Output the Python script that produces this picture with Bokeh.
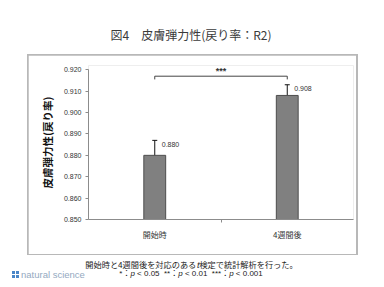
from bokeh.plotting import figure
from bokeh.layouts import column
from bokeh.models import (ColumnDataSource, Whisker, TeeHead, Div,
                          FixedTicker, Range1d, PrintfTickFormatter)
from bokeh.embed import file_html
from bokeh.resources import INLINE
from bokeh.core.properties import value

categories = ["開始時", "4週間後"]
means = [0.880, 0.908]
errors = [0.007, 0.005]
value_labels = ["0.880", "0.908"]
y_ticks = [0.850, 0.860, 0.870, 0.880, 0.890, 0.900, 0.910, 0.920]
sig_label = "***"
title_text = "図4　皮膚弾力性(戻り率：R2)"
y_label = "皮膚弾力性(戻り率)"
note1_html = "開始時と4週間後を対応のある<i>t</i>検定で統計解析を行った。"
note2_html = ("*：<i>p</i> &lt; 0.05&nbsp;&nbsp;**：<i>p</i> &lt; 0.01"
              "&nbsp;&nbsp;***：<i>p</i> &lt; 0.001")
brand = "natural science"

JP = "Noto Sans CJK JP"
LAT = "Liberation Sans"

xs = [i + 0.5 for i in range(len(categories))]
upper = [m + e for m, e in zip(means, errors)]
lower = [m - e for m, e in zip(means, errors)]
src = ColumnDataSource(dict(x=xs, top=means, upper=upper, lower=lower, label=value_labels))

# ---- title ----
title_div = Div(width=384, height=54, margin=(0, 0, 0, 0), text=(
    f'<div style="position:relative;width:384px;height:54px;">'
    f'<span style="position:absolute;left:0;width:382px;top:28px;line-height:14px;'
    f'text-align:center;font-family:\'{JP}\';font-size:12px;color:#3a3a3a;white-space:nowrap;">'
    f'{title_text}</span></div>'))

# ---- chart ----
p = figure(width=328, height=199, x_range=Range1d(0, len(categories)),
           y_range=Range1d(y_ticks[0], 0.922),
           output_backend="svg", toolbar_location=None, title=None,
           min_border_left=60, min_border_right=3, min_border_top=10, min_border_bottom=35,
           margin=(1, 2, 1, 1))
p.outline_line_color = None
p.xgrid.visible = False
p.ygrid.visible = False
p.background_fill_color = "white"
p.border_fill_color = "white"

ya = p.yaxis[0]
ya.ticker = FixedTicker(ticks=y_ticks)
ya.bounds = (y_ticks[0], y_ticks[-1])
ya.formatter = PrintfTickFormatter(format="%.3f")
ya.major_tick_in = 0
ya.major_tick_out = 3
ya.minor_tick_line_color = None
ya.axis_line_color = "#8c8c8c"
ya.major_tick_line_color = "#8c8c8c"
ya.major_label_text_font = LAT
ya.major_label_text_font_size = "7px"
ya.major_label_text_color = "#333333"
ya.major_label_standoff = 4
ya.axis_label = y_label
ya.axis_label_text_font = JP
ya.axis_label_text_font_size = "10.5px"
ya.axis_label_text_font_style = "bold"
ya.axis_label_text_color = "#111111"
ya.axis_label_standoff = 6

xa = p.xaxis[0]
xa.ticker = FixedTicker(ticks=xs, minor_ticks=[1.0])
xa.major_label_overrides = {x: c for x, c in zip(xs, categories)}
xa.major_tick_line_color = None
xa.major_tick_in = 0
xa.major_tick_out = 3
xa.minor_tick_in = 0
xa.minor_tick_out = 3
xa.minor_tick_line_color = "#8c8c8c"
xa.axis_line_color = "#8c8c8c"
xa.major_label_text_font = JP
xa.major_label_text_font_size = "8px"
xa.major_label_text_color = "#333333"
xa.major_label_standoff = 6

p.vbar(x="x", top="top", bottom=y_ticks[0], width=0.165, source=src,
       fill_color="#808080", line_color="#4d4d4d", line_width=1)

p.add_layout(Whisker(base="x", upper="upper", lower="lower", source=src,
                     line_color="#111111", line_width=1,
                     upper_head=TeeHead(size=5, line_color="#111111"),
                     lower_head=TeeHead(size=5, line_color="#111111")))

p.text(x="x", y="upper", text="label", source=src, x_offset=7, y_offset=4,
       text_baseline="middle", text_align="left", text_font=value(LAT),
       text_font_size="7px", text_color="#333333")

bracket_y = max(upper) + 0.004
tick_len = 0.0015
p.line(x=[xs[0], xs[0], xs[-1], xs[-1]],
       y=[bracket_y - tick_len, bracket_y, bracket_y, bracket_y - tick_len],
       line_color="#444444", line_width=1)
p.text(x=[sum(xs) / len(xs)], y=[p.y_range.end], text=[sig_label],
       text_align="center", text_baseline="top",
       text_font=value(LAT), text_font_size="9px", text_font_style="bold",
       text_color="#333333")

# gray container: its background shows through the figure's margin as the box border
box = column(p, spacing=0, margin=(0, 0, 0, 27), background="#b8b8b8")
box.styles = {"background-color": "#b8b8b8"}

# ---- notes ----
sq = "position:absolute;width:3px;height:3px;background:#4a86c8;"
notes_div = Div(width=384, height=32, margin=(0, 0, 0, 0), text=(
    f'<div style="position:relative;width:384px;height:32px;color:#222;">'
    f'<span style="position:absolute;left:0;width:383px;text-align:center;top:4px;'
    f'line-height:10px;white-space:nowrap;font-family:\'{JP}\';font-size:8.2px;">{note1_html}</span>'
    f'<span style="position:absolute;left:0;width:382px;text-align:center;top:14px;'
    f'line-height:10px;white-space:nowrap;font-family:\'{LAT}\',\'{JP}\';font-size:8px;">'
    f'{note2_html}</span>'
    f'<span style="{sq}left:12px;top:16px;"></span><span style="{sq}left:16px;top:16px;"></span>'
    f'<span style="{sq}left:12px;top:20px;"></span><span style="{sq}left:16px;top:20px;"></span>'
    f'<span style="position:absolute;left:21px;top:14px;line-height:12px;white-space:nowrap;'
    f'font-family:\'{LAT}\';font-size:9.5px;color:#94a9bf;">{brand}</span>'
    f'</div>'))

root = column(title_div, box, notes_div, spacing=0, margin=(0, 0, 0, 0))
open("out.html", "w").write(file_html(root, INLINE))
